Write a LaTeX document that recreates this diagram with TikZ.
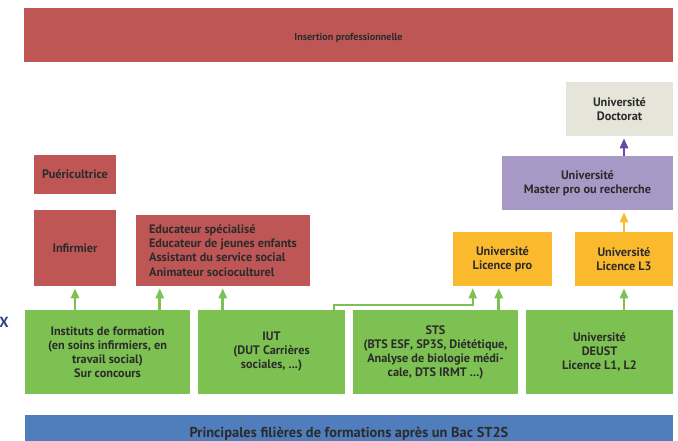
\documentclass[tikz,border=0pt]{standalone}
\usepackage{fontspec}
\setmainfont{PT Sans}
\usetikzlibrary{arrows.meta,calc}
\definecolor{cred}{HTML}{BE5656}
\definecolor{cgreen}{HTML}{7DC152}
\definecolor{corange}{HTML}{FBBA2E}
\definecolor{cpurple}{HTML}{A898C5}
\definecolor{carrpurple}{HTML}{6B48A0}
\definecolor{cgrey}{HTML}{E6E5DA}
\definecolor{cblue}{HTML}{507EBD}
\definecolor{ctext}{HTML}{2B2B2B}
\definecolor{cnavy}{HTML}{2E3E8A}
\tikzset{
  box/.style={inner sep=0pt, align=center, text=ctext,
    font=\bfseries\fontsize{9.2}{10.5}\selectfont},
  redbox/.style={box, fill=cred},
  greenbox/.style={box, fill=cgreen},
  orangebox/.style={box, fill=corange},
  arr/.style={line width=1.9pt, -{Triangle[width=6pt,length=7.5pt]}, shorten >=1.5pt},
  garrow/.style={arr, draw=cgreen},
}
\begin{document}
\begin{tikzpicture}[x=0.75pt,y=-0.75pt]
\useasboundingbox (0,0) rectangle (678,441);
% top
\node[redbox, minimum width=649*0.75pt, minimum height=54*0.75pt,
  font=\bfseries\fontsize{7.6}{9}\selectfont] (ins) at (348.5,35) {\raisebox{-4.5pt}[0pt][0pt]{Insertion professionnelle}};
% red boxes
\node[redbox, minimum width=82*0.75pt, minimum height=39*0.75pt] (puer) at (75,174.5) {Puéricultrice};
\node[redbox, minimum width=82*0.75pt, minimum height=76*0.75pt] (infi) at (75,248) {Infirmier};
\node[redbox, minimum width=174*0.75pt, minimum height=71*0.75pt, align=left,
  font=\bfseries\fontsize{9.2}{10.7}\selectfont] (educ) at (223,250.5)
  {Educateur spécialisé\\Educateur de jeunes enfants\\Assistant du service social\\Animateur socioculturel};
% university path
\node[box, fill=cgrey, minimum width=107*0.75pt, minimum height=54*0.75pt] (doct) at (619.5,109) {Université\\Doctorat};
\node[box, fill=cpurple, minimum width=171*0.75pt, minimum height=54*0.75pt] (master) at (587.5,183) {Université\\Master pro ou recherche};
\node[orangebox, minimum width=99*0.75pt, minimum height=54*0.75pt] (lpro) at (502.5,259) {Université\\Licence pro};
\node[orangebox, minimum width=98*0.75pt, minimum height=54*0.75pt] (l3) at (624,259) {Université\\Licence L3};
% green boxes
\node[greenbox, minimum width=165*0.75pt, minimum height=84*0.75pt] (inst) at (107.5,352)
  {Instituts de formation\\(en soins infirmiers, en\\travail social)\\Sur concours};
\node[greenbox, minimum width=147*0.75pt, minimum height=84*0.75pt] (iut) at (271.5,352)
  {IUT\\(DUT Carrières\\sociales, ...)};
\node[greenbox, minimum width=165*0.75pt, minimum height=84*0.75pt] (sts) at (435.5,352)
  {STS\\(BTS ESF, SP3S, Diététique,\\Analyse de biologie médi-\\cale, DTS IRMT ...)};
\node[greenbox, minimum width=147*0.75pt, minimum height=84*0.75pt] (univ) at (599.5,352)
  {Université\\DEUST\\Licence L1, L2};
% bottom bar
\node[box, fill=cblue, minimum width=648*0.75pt, minimum height=38*0.75pt,
  font=\bfseries\fontsize{10.8}{12}\selectfont] (bac) at (349,434)
  {Principales filières de formations après un Bac ST2S};
\node[text=cnavy, font=\bfseries\fontsize{11}{12}\selectfont, inner sep=0pt, anchor=east] (xx) at (9,322) {X};
% coordinates on targets
\coordinate (e1) at ([xshift=18pt]educ.south west);
\coordinate (e2) at ([xshift=65.25pt]educ.south west);
\coordinate (p1) at ([xshift=15pt]lpro.south west);
\coordinate (p2) at ([xshift=34.5pt]lpro.south west);
\coordinate (iu) at ([xshift=102pt]iut.north west);
\coordinate (bend) at ([yshift=3.75pt]iu);
% arrows
\draw[garrow] (inst.north -| infi.south) -- (infi.south);
\draw[garrow] (inst.north -| e1) -- (e1);
\draw[garrow] (iut.north -| e2) -- (e2);
\draw[garrow, line width=1.5pt] (iu) -- (bend) -- (bend -| p1) -- (p1);
\draw[garrow] (sts.north -| p2) -- (p2);
\draw[garrow] (univ.north -| l3.south) -- (l3.south);
\draw[arr, draw=corange] (l3.north) -- (master.south -| l3.north);
\draw[arr, draw=carrpurple] (master.north -| l3.north) -- (doct.south -| l3.north);
\end{tikzpicture}
\end{document}
